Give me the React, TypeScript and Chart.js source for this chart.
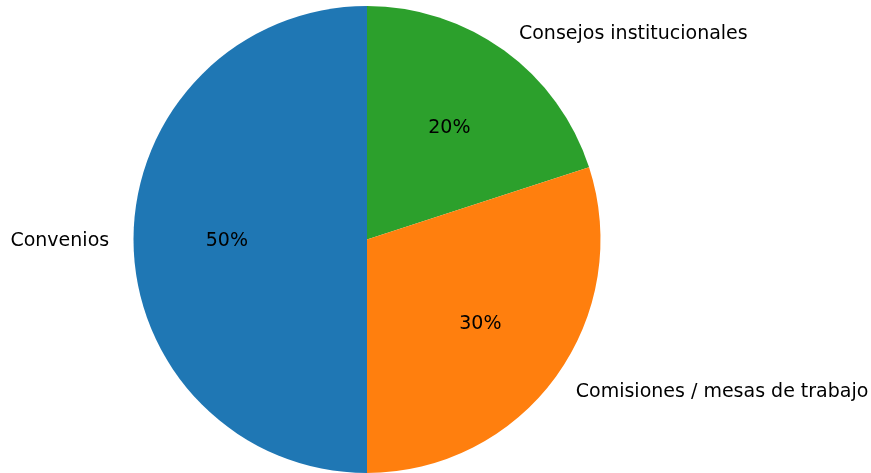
import React, { useEffect, useRef } from "react";
import { Chart, registerables } from "chart.js";

Chart.register(...registerables);

const categories = ["Consejos institucionales", "Comisiones / mesas de trabajo", "Convenios"];
const values = [20, 30, 50];
const colors = ["#2ca02c", "#ff7f0e", "#1f77b4"];

const FONT = "19px 'DejaVu Sans'";
const TEXT_DY = 2;

const labelPlugin = {
  id: "pieLabels",
  afterDraw(chart: any) {
    const ctx = chart.ctx;
    const meta = chart.getDatasetMeta(0);
    const total = values.reduce((a, b) => a + b, 0);
    ctx.save();
    ctx.font = FONT;
    ctx.fillStyle = "#000000";
    ctx.textBaseline = "middle";
    meta.data.forEach((arc: any, i: number) => {
      const mid = (arc.startAngle + arc.endAngle) / 2;
      const r = arc.outerRadius;
      const cx = Math.cos(mid);
      const cy = Math.sin(mid);
      const lx = arc.x + cx * r * 1.1;
      const ly = arc.y + cy * r * 1.1 + TEXT_DY;
      ctx.textAlign = cx > 1e-6 ? "left" : cx < -1e-6 ? "right" : "center";
      ctx.fillText(categories[i], cx < -1e-6 ? lx - 1 : lx + 1, ly);
      const px = arc.x + cx * r * 0.6;
      const py = arc.y + cy * r * 0.6 + TEXT_DY;
      ctx.textAlign = "center";
      ctx.fillText(Math.round((values[i] / total) * 100) + "%", px, py);
    });
    ctx.restore();
  },
};

export default function App() {
  const ref = useRef<HTMLCanvasElement>(null);
  useEffect(() => {
    if (!ref.current) return;
    const chart = new Chart(ref.current, {
      type: "pie",
      data: {
        labels: categories,
        datasets: [
          {
            data: values,
            backgroundColor: colors,
            borderWidth: 0,
          },
        ],
      },
      options: {
        responsive: false,
        animation: false,
        layout: { padding: { left: 133, right: 270, top: 6, bottom: -1 } },
        plugins: {
          legend: { display: false },
          tooltip: { enabled: false },
        },
      },
      plugins: [labelPlugin],
    });
    return () => chart.destroy();
  }, []);
  return (
    <div style={{ position: "fixed", left: 0, top: 0, width: 871, height: 473, background: "#ffffff" }}>
      <canvas ref={ref} width={871} height={473} style={{ width: 871, height: 473 }} />
    </div>
  );
}
